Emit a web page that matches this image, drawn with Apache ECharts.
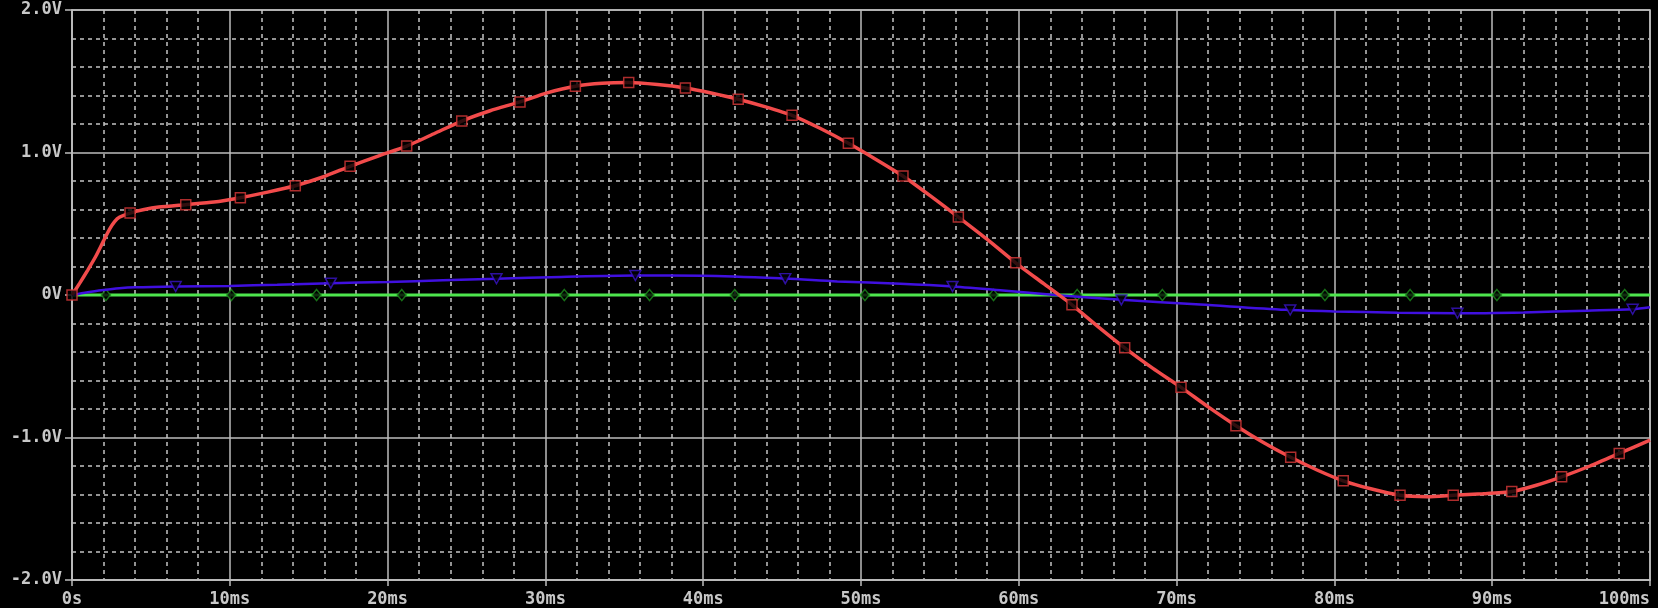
<!DOCTYPE html>
<html>
<head>
<meta charset="utf-8">
<script src="https://cdn.jsdelivr.net/npm/echarts@6/dist/echarts.min.js"></script>
<style>
html,body{margin:0;padding:0;background:#000;}
#chart{width:1658px;height:608px;}
</style>
</head>
<body>
<div id="chart"></div>
<script>
// Axis ticks
const xTickValues = [0, 10, 20, 30, 40, 50, 60, 70, 80, 90, 100];
const xTickLabels = ['0s', '10ms', '20ms', '30ms', '40ms', '50ms', '60ms', '70ms', '80ms', '90ms', '100ms'];
const yTickValues = [-2, -1, 0, 1, 2];
const yTickLabels = ['-2.0V', '-1.0V', '0V', '1.0V', '2.0V'];

// Red trace (time in ms, volts)
const redT = [0, 0.5, 1.0, 1.5, 2.0, 2.4, 2.7, 3.0, 3.68, 4.5, 5.5, 7.21, 9.0, 10.67, 12.4, 14.15, 15.9, 17.62, 19.4, 21.21, 23.0, 24.70, 26.5, 28.39, 30.1, 31.9, 33.6, 35.28, 37.1, 38.87, 40.5, 42.22, 43.9, 45.63, 47.4, 49.2, 50.9, 52.66, 54.4, 56.17, 58.0, 59.8, 61.6, 63.37, 65.0, 66.71, 68.5, 70.28, 72.0, 73.76, 75.5, 77.23, 78.9, 80.56, 82.3, 84.16, 85.9, 87.53, 89.4, 91.24, 92.8, 94.4, 96.2, 98.05, 100];
const redV = [0, 0.085, 0.175, 0.27, 0.38, 0.465, 0.515, 0.545, 0.575, 0.598, 0.617, 0.634, 0.652, 0.683, 0.722, 0.767, 0.828, 0.903, 0.975, 1.045, 1.135, 1.221, 1.293, 1.355, 1.418, 1.465, 1.486, 1.491, 1.477, 1.453, 1.418, 1.374, 1.322, 1.261, 1.17, 1.065, 0.955, 0.835, 0.695, 0.547, 0.39, 0.226, 0.078, -0.069, -0.22, -0.371, -0.515, -0.648, -0.785, -0.917, -1.035, -1.139, -1.228, -1.304, -1.36, -1.405, -1.415, -1.405, -1.395, -1.379, -1.335, -1.276, -1.2, -1.112, -1.018];
const redMarkT = [0, 3.68, 7.21, 10.67, 14.15, 17.62, 21.21, 24.70, 28.39, 31.9, 35.28, 38.87, 42.22, 45.63, 49.2, 52.66, 56.17, 59.8, 63.37, 66.71, 70.28, 73.76, 77.23, 80.56, 84.16, 87.53, 91.24, 94.4, 98.05];
const redMarkV = [0, 0.575, 0.634, 0.683, 0.767, 0.903, 1.045, 1.221, 1.355, 1.465, 1.491, 1.453, 1.374, 1.261, 1.065, 0.835, 0.547, 0.226, -0.069, -0.371, -0.648, -0.917, -1.139, -1.304, -1.405, -1.405, -1.379, -1.276, -1.112];

// Blue trace
const blueT = [0, 1, 2, 3, 4, 6.57, 10, 13, 16.4, 20, 23.5, 26.9, 31, 35.7, 40, 45.2, 48.5, 52.5, 55.8, 59, 62.3, 66.5, 71.5, 76.9, 80, 84, 87.8, 92, 96, 98.9, 100];
const blueV = [0, 0.02, 0.035, 0.047, 0.054, 0.06, 0.064, 0.072, 0.083, 0.092, 0.103, 0.114, 0.127, 0.137, 0.135, 0.115, 0.095, 0.079, 0.06, 0.032, 0.0, -0.034, -0.067, -0.104, -0.115, -0.124, -0.128, -0.122, -0.11, -0.1, -0.086];
const blueMarkT = [6.57, 16.4, 26.9, 35.7, 45.2, 55.8, 66.5, 77.2, 87.8, 98.9];
const blueMarkV = [0.06, 0.083, 0.114, 0.137, 0.115, 0.06, -0.034, -0.105, -0.128, -0.1];

// Green trace
const greenT = [0, 10, 20, 30, 40, 50, 60, 70, 80, 90, 100];
const greenV = [0, 0, 0, 0, 0, 0, 0, 0, 0, 0, 0];
const greenMarkT = [2.15, 10.1, 15.5, 20.9, 31.2, 36.6, 42.0, 50.25, 58.4, 63.7, 69.1, 79.4, 84.8, 90.3, 98.4];
const greenMarkV = [0, 0, 0, 0, 0, 0, 0, 0, 0, 0, 0, 0, 0, 0, 0];

const zip = (a, b) => a.map((t, i) => [t, b[i]]);

const labelFont = {
  color: '#c8c8c8',
  fontFamily: 'DejaVu Sans Mono',
  fontWeight: 'bold',
  fontSize: 17
};
const majorColor = '#bdbdbd';
const minorStyle = { color: '#c4c4c4', width: 1.5, type: [4, 4] };

const chart = echarts.init(document.getElementById('chart'), null, { renderer: 'canvas' });
chart.setOption({
  backgroundColor: '#000',
  animation: false,
  grid: {
    left: 72, right: 8, top: 10, bottom: 28,
    show: true, borderColor: majorColor, borderWidth: 1.5, backgroundColor: '#000'
  },
  xAxis: {
    type: 'value', min: 0, max: 100, interval: 10,
    axisLine: { show: true, onZero: false, lineStyle: { color: majorColor, width: 1.5 } },
    axisTick: { show: true, length: 6, lineStyle: { color: majorColor, width: 1.5 } },
    axisLabel: Object.assign({}, labelFont, {
      margin: 11,
      alignMaxLabel: 'right',
      formatter: v => { const i = xTickValues.indexOf(Math.round(v)); return i >= 0 ? xTickLabels[i] : ''; }
    }),
    splitLine: { show: true, lineStyle: { color: majorColor, width: 1.5 } },
    minorTick: { show: false, splitNumber: 5 },
    minorSplitLine: { show: true, lineStyle: minorStyle }
  },
  yAxis: {
    type: 'value', min: -2, max: 2, interval: 1,
    axisLine: { show: true, onZero: false, lineStyle: { color: majorColor, width: 1.5 } },
    axisTick: { show: true, length: 7, lineStyle: { color: majorColor, width: 1.5 } },
    axisLabel: Object.assign({}, labelFont, {
      margin: 10,
      formatter: v => { const i = yTickValues.indexOf(Math.round(v)); return i >= 0 ? yTickLabels[i] : ''; }
    }),
    splitLine: { show: true, lineStyle: { color: majorColor, width: 1.5 } },
    minorTick: { show: false, splitNumber: 5 },
    minorSplitLine: { show: true, lineStyle: minorStyle }
  },
  series: [
    { type: 'line', data: zip(greenT, greenV), showSymbol: false, lineStyle: { color: '#4ee64e', width: 3 }, z: 2 },
    { type: 'scatter', data: zip(greenMarkT, greenMarkV), symbol: 'diamond', symbolSize: [9, 11],
      itemStyle: { color: '#000', borderColor: '#1e8c1e', borderWidth: 1.5 }, z: 3 },
    { type: 'line', data: zip(blueT, blueV), showSymbol: false, smooth: 0.3, lineStyle: { color: '#4010e0', width: 2.5 }, z: 4 },
    { type: 'scatter', data: zip(blueMarkT, blueMarkV), symbol: 'triangle', symbolRotate: 180, symbolSize: [11, 10],
      itemStyle: { color: '#000', borderColor: '#3a14c8', borderWidth: 1.5 }, z: 5 },
    { type: 'line', data: zip(redT, redV), showSymbol: false, smooth: 0.2, lineStyle: { color: '#f24b4b', width: 3.5 }, z: 6 },
    { type: 'scatter', data: zip(redMarkT, redMarkV), symbol: 'rect', symbolSize: 10,
      itemStyle: { color: '#000', borderColor: '#d83838', borderWidth: 1.5 }, z: 7 }
  ]
});
</script>
</body>
</html>
